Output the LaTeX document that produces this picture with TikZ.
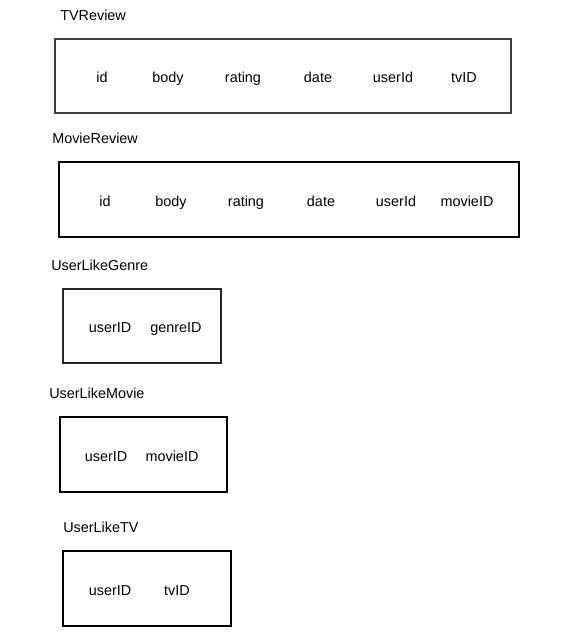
\documentclass[tikz,border=0pt]{standalone}
\usepackage{fontspec}
\setmainfont{Liberation Sans}
\begin{document}
\begin{tikzpicture}[x=0.75pt,y=-0.75pt,
  tbl/.style={draw=black!75,line width=1pt},
  ttl/.style={anchor=west,inner sep=0pt,text height=1.6ex,text depth=0.4ex,yshift=-0.75pt,font=\fontsize{10.8pt}{12pt}\selectfont},
  fld/.style={inner sep=0pt,text height=1.6ex,text depth=0.4ex,yshift=-0.75pt,font=\fontsize{10.8pt}{12pt}\selectfont}]
\useasboundingbox (0,0) rectangle (587,643);
% TVReview
\node[ttl] (t1) at (60,15) {TVReview};
\draw[tbl] (55,39) rectangle (511,113);
\node[fld] (t1a) at (102,77) {id};
\node[fld] (t1b) at (168,77) {body};
\node[fld] (t1c) at (243,77) {rating};
\node[fld] (t1d) at (318,77) {date};
\node[fld] (t1e) at (393,77) {userId};
\node[fld] (t1f) at (464,77) {tvID};
% MovieReview
\node[ttl] (t2) at (52,138) {MovieReview};
\draw[tbl,draw=black] (59,162) rectangle (519,237);
\node[fld] (t2a) at (105,201) {id};
\node[fld] (t2b) at (171,201) {body};
\node[fld] (t2c) at (246,201) {rating};
\node[fld] (t2d) at (321,201) {date};
\node[fld] (t2e) at (396,201) {userId};
\node[fld] (t2f) at (467,201) {movieID};
% UserLikeGenre
\node[ttl] (t3) at (51,265) {UserLikeGenre};
\draw[tbl,draw=black!85] (63,289) rectangle (221,363);
\node[fld] (t3a) at (110,327) {userID};
\node[fld] (t3b) at (176,327) {genreID};
% UserLikeMovie
\node[ttl] (t4) at (49,393) {UserLikeMovie};
\draw[tbl,draw=black] (60,417) rectangle (227,492);
\node[fld] (t4a) at (106,456) {userID};
\node[fld] (t4b) at (172,456) {movieID};
% UserLikeTV
\node[ttl] (t5) at (63,527) {UserLikeTV};
\draw[tbl,draw=black] (63,551) rectangle (231,626);
\node[fld] (t5a) at (110,590) {userID};
\node[fld] (t5b) at (177,590) {tvID};
\end{tikzpicture}
\end{document}
